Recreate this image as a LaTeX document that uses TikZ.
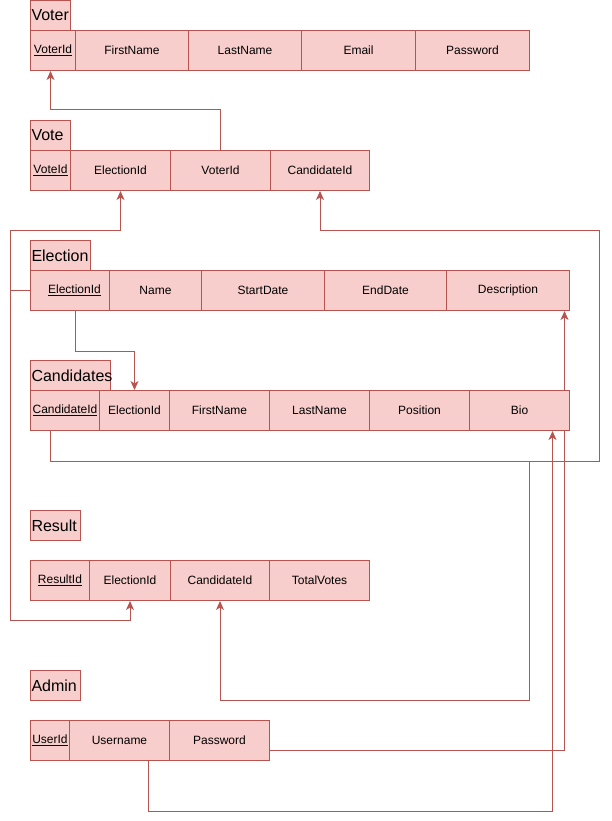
\documentclass[tikz,border=0pt]{standalone}
\usepackage{fontspec}
\setmainfont{Liberation Sans}
\usetikzlibrary{arrows.meta}
\pgfdeclarelayer{bg}
\pgfsetlayers{bg,main}
\definecolor{fillc}{HTML}{F8CECC}
\definecolor{strokec}{HTML}{B85450}
\tikzset{
 cell/.style={draw=strokec, fill=fillc, minimum height=40pt, inner sep=0pt, anchor=north west, font=\fontsize{12}{14}\selectfont, line width=1pt},
 ttl/.style={draw=strokec, fill=fillc, minimum height=30pt, inner ysep=0pt, inner xsep=1pt, anchor=north west, font=\fontsize{16}{19}\selectfont, align=left, line width=1pt},
 fk/.style={draw=strokec, line width=1pt, -{Stealth[length=9pt,width=8pt,inset=2.5pt]}}
}
\newcommand\cellat[5]{\node[cell, minimum width=#4pt] (#1) at (#2,#3) {#5};}
\newcommand\ttlat[5]{\node[ttl, text width=#4pt] (#1) at (#2,#3) {#5};}
\begin{document}
\begin{tikzpicture}[x=1pt,y=-1pt]
\useasboundingbox (0,0) rectangle (611,821);
% Voter
\ttlat{vr-t}{30}{0}{38}{Voter}
\cellat{vr-id}{30}{30}{45}{\underline{VoterId}}
\cellat{vr-fn}{75}{30}{113}{FirstName}
\cellat{vr-ln}{188}{30}{113}{LastName}
\cellat{vr-em}{301}{30}{114}{Email}
\cellat{vr-pw}{415}{30}{114}{Password}
% Vote
\ttlat{vt-t}{30}{120}{38}{Vote}
\cellat{vt-id}{30}{150}{40}{\underline{VoteId}}
\cellat{vt-eid}{70}{150}{100}{ElectionId}
\cellat{vt-vid}{170}{150}{100}{VoterId}
\cellat{vt-cid}{270}{150}{99}{CandidateId}
% Election
\ttlat{el-t}{30}{240}{58}{Election}
\cellat{el-id}{30}{270}{79}{\hspace{9pt}\underline{ElectionId}}
\cellat{el-nm}{109}{270}{92}{Name}
\cellat{el-sd}{201}{270}{123}{StartDate}
\cellat{el-ed}{324}{270}{122}{EndDate}
\cellat{el-ds}{446}{270}{123}{Description}
% Candidates
\ttlat{cd-t}{30}{360}{78}{Candidates}
\cellat{cd-id}{30}{390}{69}{\underline{CandidateId}}
\cellat{cd-eid}{99}{390}{70}{ElectionId}
\cellat{cd-fn}{169}{390}{100}{FirstName}
\cellat{cd-ln}{269}{390}{100}{LastName}
\cellat{cd-ps}{369}{390}{100}{Position}
\cellat{cd-bio}{469}{390}{100}{Bio}
% Result
\ttlat{rs-t}{30}{510}{48}{Result}
\cellat{rs-id}{30}{560}{59}{\underline{ResultId}}
\cellat{rs-eid}{89}{560}{81}{ElectionId}
\cellat{rs-cid}{170}{560}{99}{CandidateId}
\cellat{rs-tv}{269}{560}{100}{TotalVotes}
% Admin
\ttlat{ad-t}{30}{670}{48}{Admin}
\cellat{ad-id}{30}{720}{39}{\underline{UserId}}
\cellat{ad-un}{69}{720}{100}{Username}
\cellat{ad-pw}{169}{720}{100}{Password}
% connectors
\begin{pgfonlayer}{bg}
\draw[fk] (vt-vid.north) -- ++(0,-40) -| ([xshift=-2.5pt]vr-id.south);
\draw[fk] (el-id.west) -| (10,230) -| (vt-eid.south);
\draw[fk] (el-id.west) -| (10,620) -| (rs-eid.south);
\draw[fk] ([xshift=5.5pt]el-id.south) -- ++(0,40) -| (cd-eid.north);
\draw[fk] ([xshift=-14.5pt]cd-id.south) -- ++(0,30) -| (599,230) -| (vt-cid.south);
\draw[fk] ([xshift=-14.5pt]cd-id.south) -- ++(0,30) -| (529,700) -| (rs-cid.south);
\draw[fk] ([yshift=-10pt]ad-pw.east) -| ([xshift=56.5pt]el-ds.south);
\draw[fk] ([xshift=29pt]ad-un.south) -- ++(0,50) -| ([xshift=33pt]cd-bio.south);
\end{pgfonlayer}
\end{tikzpicture}
\end{document}
